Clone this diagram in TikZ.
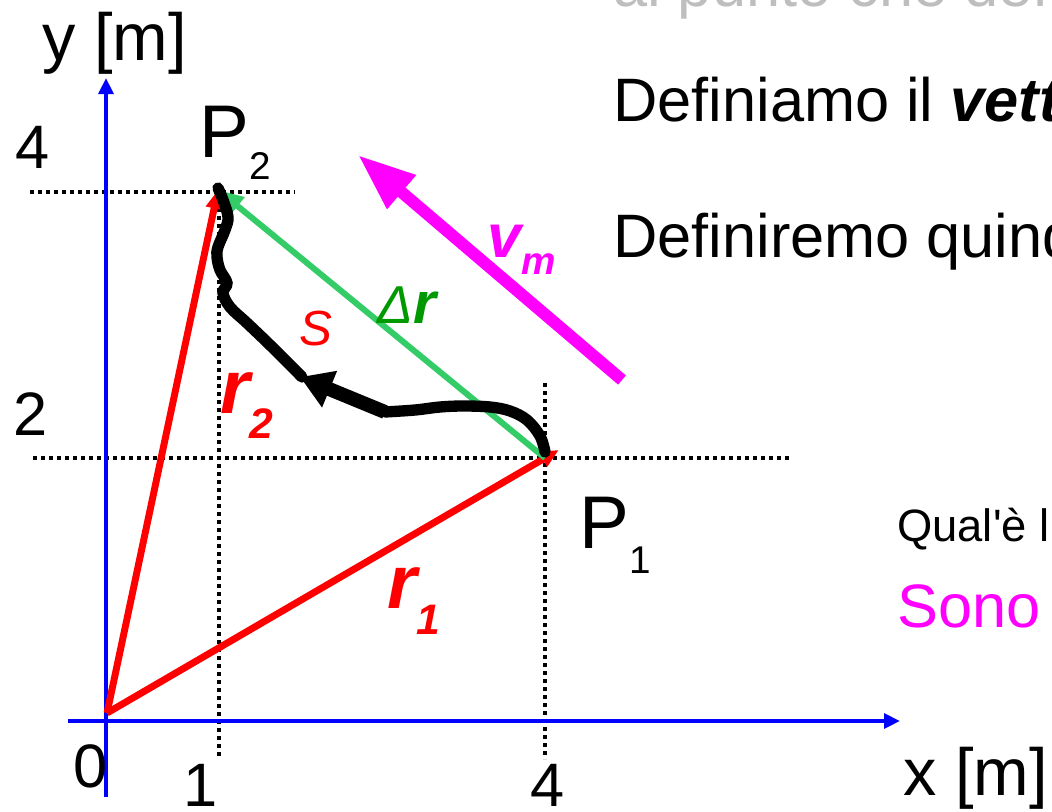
\documentclass[tikz,border=0pt]{standalone}
\usepackage{fontspec}
\setmainfont{Liberation Sans}[Ligatures=TeXOff]
\usepackage{xcolor}
\definecolor{axiscolor}{RGB}{0,0,255}
\definecolor{veccolor}{RGB}{255,0,0}
\definecolor{drcolor}{RGB}{51,204,102}
\definecolor{drtext}{RGB}{0,153,0}
\definecolor{vmcolor}{RGB}{255,0,255}
\definecolor{greytext}{RGB}{190,190,190}
\usetikzlibrary{arrows.meta}

\begin{document}
\begin{tikzpicture}[x=0.75pt, y=-0.75pt, every node/.style={inner sep=0pt, anchor=base west, font=\fontsize{46}{50}\selectfont},
  guide/.style={black, line width=2.8pt, dash pattern=on 3pt off 3pt},
  axis/.style={axiscolor, line width=3pt, -{Triangle[length=12pt, width=11pt]}},
  vec/.style={veccolor, line width=5.2pt, -{Triangle[length=14pt, width=12pt]}},
  pathline/.style={black, line width=8.5pt, line cap=round}]
  \useasboundingbox (0,0) rectangle (1052,811);

  \coordinate (O) at (107,713);
  \coordinate (P1) at (545,458);
  \coordinate (P2) at (218,190);
  \coordinate (xa) at (68,721);
  \coordinate (xb) at (900,721);
  \coordinate (ya) at (106,797);
  \coordinate (yb) at (106,78);
  \coordinate (g1a) at (30,192);
  \coordinate (g1b) at (295,192);
  \coordinate (g2a) at (33,458);
  \coordinate (g2b) at (790,458);
  \coordinate (g3a) at (219,192);
  \coordinate (g3b) at (219,759);
  \coordinate (g4a) at (545,383);
  \coordinate (g4b) at (545,759);
  \coordinate (vma) at (622,380);
  \coordinate (vmb) at (358,155);
  \coordinate (sa) at (385,412);
  \coordinate (sb) at (300,377);

  \draw[guide] (g1a) -- (g1b);
  \draw[guide] (g2a) -- (g2b);
  \draw[guide] (g3a) -- (g3b);
  \draw[guide] (g4a) -- (g4b);

  \draw[axis] (xa) -- (xb);
  \draw[axis] (ya) -- (yb);

  \draw[vec, shorten >=-12pt] (O) -- (P1);
  \draw[vec] (O) -- (P2);

  \draw[vmcolor, line width=9pt, -{Triangle[length=43pt, width=31pt]}] (vma) -- (vmb);

  \draw[drcolor, line width=4.5pt, -{Triangle[length=19pt, width=16pt]}] (P1) -- (P2);

  \draw[pathline] plot[smooth, tension=0.6] coordinates {(545,452) (540,436) (527,420) (510,411) (490,407) (463,406) (440,407) (415,410) (385,412)};
  \draw[black, line width=10.5pt, -{Triangle[length=24pt, width=28pt]}] (sa) -- (sb);
  \draw[pathline] plot[smooth, tension=0.6] coordinates {(302,377) (270,345) (247,323) (230,307) (223,293) (227,283) (220,270) (217,257) (218,247) (225,230) (228,217) (223,200) (218,188)};

  \node[font=\fontsize{50}{54}\selectfont] (ylab) at (42,60) {y [m]};
  \node[font=\fontsize{50}{54}\selectfont] (xlab) at (903,795) {x [m]};
  \node (t4y) at (15,168) {4};
  \node (t2y) at (13,435) {2};
  \node (t0) at (73,787) {0};
  \node (t1) at (183,806) {1};
  \node (t4x) at (530,806) {4};

  \node[font=\fontsize{56}{60}\selectfont] (lP2) at (199,157) {P\raisebox{-17pt}{\fontsize{29}{30}\selectfont 2}};
  \node[font=\fontsize{56}{60}\selectfont] (lP1) at (579,548) {P\raisebox{-19pt}{\fontsize{29}{30}\selectfont 1}};

  \node[veccolor, font=\fontsize{57}{60}\selectfont\bfseries\itshape] (lr2) at (220,413) {r\raisebox{-19pt}{\fontsize{32}{32}\selectfont 2}};
  \node[veccolor, font=\fontsize{57}{60}\selectfont\bfseries\itshape] (lr1) at (387,608) {r\raisebox{-20pt}{\fontsize{32}{32}\selectfont 1}};
  \node[veccolor, font=\fontsize{37}{40}\selectfont\itshape] (lS) at (299,345) {S};
  \node[drtext, font=\fontsize{40}{44}\selectfont\itshape] (ldr) at (377,323) {Δ\fontsize{44}{44}\selectfont\textbf{r}};
  \node[vmcolor, font=\fontsize{46}{50}\selectfont\bfseries\itshape] (lvm) at (487,257) {v\raisebox{-13pt}{\fontsize{29}{30}\selectfont m}};

  \node[greytext] (tgrey) at (613,6) {al punto che defi};
  \node (tdef) at (613,121) {Definiamo il \textbf{\textit{vett}}};
  \node (tdefq) at (613,257) {Definiremo quind};
  \node[font=\fontsize{34}{40}\selectfont] (tqual) at (897,541) {Qual'è l};
  \node[vmcolor] (tsono) at (897,627) {Sono};
\end{tikzpicture}
\end{document}
